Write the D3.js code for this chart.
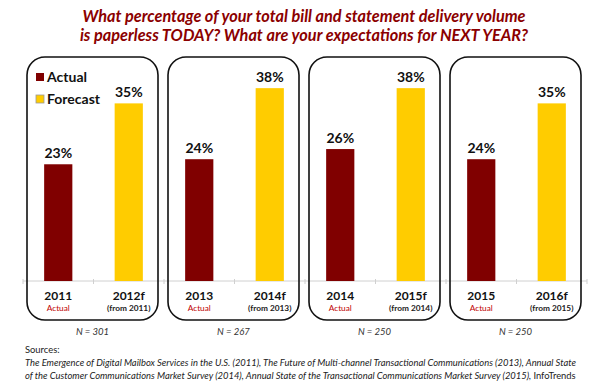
<!DOCTYPE html>
<html>
<head>
<meta charset="utf-8">
<script src="https://cdn.jsdelivr.net/npm/d3@7"></script>
<style>
  body { margin: 0; background: #fff; }
  text { font-family: Lato, "Open Sans", sans-serif; }
</style>
</head>
<body>
<script>
// chart values
const categories = ['2011', '2012f', '2013', '2014f', '2014', '2015f', '2015', '2016f'];
const values = [23, 35, 24, 38, 26, 38, 24, 35];
const kinds = ['Actual', 'Forecast', 'Actual', 'Forecast', 'Actual', 'Forecast', 'Actual', 'Forecast'];
const subLabels = ['Actual', '(from 2011)', 'Actual', '(from 2013)', 'Actual', '(from 2014)', 'Actual', '(from 2015)'];
const sampleSizes = ['N = 301', 'N = 267', 'N = 250', 'N = 250'];
const legendItems = ['Actual', 'Forecast'];
const titleLines = [
  'What percentage of your total bill and statement delivery volume',
  'is paperless TODAY? What are your expectations for NEXT YEAR?'
];
const sourceLines = [
  'The Emergence of Digital Mailbox Services in the U.S. (2011), The Future of Multi-channel Transactional Communications (2013), Annual State',
  'of the Customer Communications Market Survey (2014), Annual State of the Transactional Communications Market Survey (2015), '
];

const width = 607;
const height = 385;
const color = d3.scaleOrdinal().domain(legendItems).range(['#800000', '#FFCC00']);

const svg = d3.select('body')
  .append('svg')
    .attr('width', width)
    .attr('height', height);

const x = d3.scaleBand()
  .domain(categories)
  .range([23, 587])
  .paddingInner(0.6)
  .paddingOuter(0.3);
const y = d3.scaleLinear()
  .domain([0, 40])
  .range([281, 78]);
const step = x.step();
const groupStart = i => 23 + i * 2 * step;

// title
svg.selectAll('.title')
  .data(titleLines)
  .enter()
  .append('text')
    .attr('class', 'title')
    .attr('x', 304)
    .attr('y', (d, i) => 22 + i * 19)
    .attr('text-anchor', 'middle')
    .attr('fill', '#8B0000')
    .attr('font-size', 16.3)
    .attr('font-weight', 'bold')
    .attr('font-style', 'italic')
    .text(d => d);

// axis line with ticks at group boundaries
svg.append('line')
  .attr('x1', 23).attr('x2', 587)
  .attr('y1', y(0)).attr('y2', y(0))
  .attr('stroke', '#d0d0d0');
svg.selectAll('.tick')
  .data(d3.range(9))
  .enter()
  .append('line')
    .attr('x1', i => 23 + i * step)
    .attr('x2', i => 23 + i * step)
    .attr('y1', y(0) - 2)
    .attr('y2', y(0) + 3)
    .attr('stroke', '#d0d0d0');

// panels
svg.selectAll('.panel')
  .data(sampleSizes)
  .enter()
  .append('rect')
    .attr('class', 'panel')
    .attr('x', (d, i) => groupStart(i) + 4)
    .attr('y', 57)
    .attr('width', 2 * step - 10)
    .attr('height', 263)
    .attr('rx', 18)
    .attr('fill', 'none')
    .attr('stroke', '#111')
    .attr('stroke-width', 1.6);

svg.selectAll('.nlabel')
  .data(sampleSizes)
  .enter()
  .append('text')
    .attr('x', (d, i) => groupStart(i) + step - 1)
    .attr('y', 335)
    .attr('text-anchor', 'middle')
    .attr('font-size', 9.5)
    .attr('font-style', 'italic')
    .attr('fill', '#333')
    .text(d => d);

// bars
svg.selectAll('.bar')
  .data(categories)
  .enter()
  .append('rect')
    .attr('x', d => x(d))
    .attr('y', (d, i) => y(values[i]))
    .attr('width', x.bandwidth())
    .attr('height', (d, i) => y(0) - y(values[i]))
    .attr('fill', (d, i) => color(kinds[i]));

svg.selectAll('.value')
  .data(categories)
  .enter()
  .append('text')
    .attr('x', d => x(d) + x.bandwidth() / 2)
    .attr('y', (d, i) => y(values[i]) - 6)
    .attr('text-anchor', 'middle')
    .attr('font-size', 14)
    .attr('font-weight', 'bold')
    .attr('fill', '#111')
    .text((d, i) => values[i] + '%');

svg.selectAll('.cat')
  .data(categories)
  .enter()
  .append('text')
    .attr('x', d => x(d) + x.bandwidth() / 2)
    .attr('y', 300)
    .attr('text-anchor', 'middle')
    .attr('font-size', 12)
    .attr('font-weight', 'bold')
    .attr('fill', '#111')
    .text(d => d);

svg.selectAll('.sub')
  .data(categories)
  .enter()
  .append('text')
    .attr('x', d => x(d) + x.bandwidth() / 2)
    .attr('y', 311)
    .attr('text-anchor', 'middle')
    .attr('font-size', 8.3)
    .attr('font-weight', (d, i) => kinds[i] === 'Actual' ? 'normal' : 'bold')
    .attr('fill', (d, i) => kinds[i] === 'Actual' ? '#C00000' : '#222')
    .text((d, i) => subLabels[i]);

// legend
const legend = svg.selectAll('.legend')
  .data(legendItems)
  .enter()
  .append('g')
    .attr('transform', (d, i) => `translate(36, ${73 + i * 22})`);
legend.append('rect')
  .attr('width', 8)
  .attr('height', 8)
  .attr('fill', d => color(d))
  .attr('stroke', d => d === 'Forecast' ? '#999' : 'none')
  .attr('stroke-width', 0.8);
legend.append('text')
  .attr('x', 11)
  .attr('y', 9)
  .attr('font-size', 14)
  .attr('font-weight', 'bold')
  .attr('fill', '#111')
  .text(d => d);

// sources
svg.append('text')
  .attr('x', 25)
  .attr('y', 353)
  .attr('font-size', 9.4)
  .attr('fill', '#222')
  .text('Sources:');
const src = svg.selectAll('.src')
  .data(sourceLines)
  .enter()
  .append('text')
    .attr('x', 25)
    .attr('y', (d, i) => 366 + i * 13)
    .attr('font-size', 9.4)
    .attr('font-style', 'italic')
    .attr('fill', '#222')
    .text(d => d);
src.filter((d, i) => i === 1)
  .append('tspan')
    .attr('font-style', 'normal')
    .text('InfoTrends');
</script>
</body>
</html>
